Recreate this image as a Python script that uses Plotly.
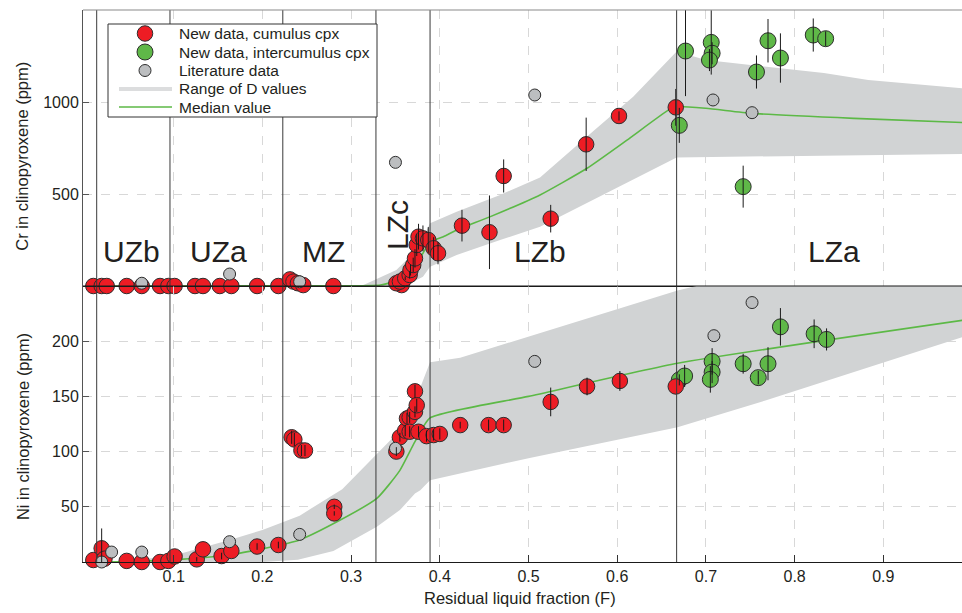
import plotly.graph_objects as go
from plotly.subplots import make_subplots

# ---------------- data ----------------
# zone boundaries (residual liquid fraction F)
zone_bounds = [0.0132, 0.0958, 0.223, 0.328, 0.389, 0.667]
zone_names = ["UZb", "UZa", "MZ", "LZc", "LZb", "LZa"]
zone_label_F = [0.052, 0.150, 0.269, 0.353, 0.513, 0.844]

# --- Cr panel ---
cum_F_cr = [0.0094, 0.0188, 0.0245, 0.047, 0.064, 0.0846, 0.094, 0.101, 0.124, 0.133, 0.152, 0.165,
            0.194, 0.218, 0.231, 0.235, 0.240, 0.246, 0.280,
            0.357, 0.351, 0.355, 0.361, 0.366, 0.367, 0.370, 0.372, 0.374, 0.376, 0.381, 0.387, 0.393, 0.398,
            0.425, 0.456, 0.472, 0.525, 0.565, 0.602, 0.666]
cum_Cr = [0, 0, 0, 0, 0, 0, 0, 0, 0, 0, 0, 0,
          0, 0, 36, 24, 15, 5, 0,
          5, 15, 24, 42, 60, 87, 114, 150, 223, 268, 259, 250, 205, 178,
          328, 292, 598, 366, 770, 924, 971]
cum_Cr_err = [0, 0, 0, 0, 0, 0, 0, 0, 0, 0, 0, 0,
              0, 0, 0, 0, 0, 0, 0,
              0, 0, 0, 10, 20, 30, 40, 50, 60, 70, 70, 70, 60, 60,
              86, 200, 90, 75, 145, 25, 100]

int_F_cr = [0.670, 0.677, 0.706, 0.707, 0.704, 0.742, 0.757, 0.770, 0.784, 0.821, 0.835]
int_Cr = [873, 1277, 1324, 1265, 1228, 540, 1163, 1333, 1239, 1364, 1344]
int_Cr_err = [95, 245, 175, 60, 60, 114, 90, 118, 134, 90, 40]

lit_F_cr = [0.064, 0.163, 0.242, 0.350, 0.507, 0.708, 0.752]
lit_Cr = [15, 65, 23, 672, 1038, 1011, 942]

cr_med_F = [0.0, 0.30, 0.333, 0.363, 0.381, 0.389, 0.404, 0.419, 0.457, 0.513, 0.566, 0.611, 0.658,
            0.667, 0.70, 0.752, 0.867, 0.99]
cr_med = [0, 1, 5, 50, 178, 241, 268, 304, 377, 495, 640, 793, 957, 975, 966, 938, 911, 888]
cr_up_F = [0.29, 0.314, 0.351, 0.374, 0.389, 0.419, 0.468, 0.513, 0.566, 0.618, 0.667, 0.70, 0.833, 0.883, 0.99]
cr_up = [0, 5, 87, 196, 341, 404, 495, 590, 812, 1029, 1274, 1228, 1157, 1120, 1074]
cr_lo_F = [0.29, 0.363, 0.381, 0.389, 0.419, 0.468, 0.513, 0.58, 0.667, 0.99]
cr_lo = [0, 5, 50, 105, 168, 250, 322, 485, 699, 717]

# --- Ni panel ---
cum_F_ni = [0.0094, 0.0188, 0.022, 0.047, 0.064, 0.0846, 0.094, 0.101, 0.126, 0.133, 0.154, 0.165,
            0.194, 0.218, 0.233, 0.236, 0.244, 0.248, 0.281, 0.281,
            0.351, 0.355, 0.361, 0.363, 0.366, 0.366, 0.372, 0.372, 0.374, 0.376, 0.385, 0.393, 0.400,
            0.423, 0.455, 0.472, 0.525, 0.566, 0.603, 0.666]
cum_Ni = [1.8, 12.4, 3, 1, 0, 0, 1, 5, 2.4, 11.5, 5.4, 10,
          14, 15.4, 113, 111, 101, 101, 50, 44,
          100, 113, 119, 130, 131, 118, 136, 154.6, 142, 118, 114, 115, 116,
          124, 124, 124, 145, 159, 164, 159]
cum_Ni_err = [0, 18, 0, 0, 0, 0, 0, 0, 2, 0, 3, 0,
              3, 3, 6, 6, 5, 5, 2, 2,
              4, 4, 5, 5, 5, 5, 5, 6, 6, 5, 5, 5, 5,
              3, 5, 5, 13, 8, 9, 0]

int_F_ni = [0.670, 0.676, 0.707, 0.707, 0.705, 0.742, 0.759, 0.770, 0.784, 0.822, 0.836]
int_Ni = [165, 168.5, 181.7, 172, 165.4, 179.6, 167, 179.6, 213, 206.7, 201.6]
int_Ni_err = [5, 10, 12, 10, 12, 9, 6, 15, 17, 13, 10]

lit_F_ni = [0.0188, 0.030, 0.064, 0.163, 0.242, 0.350, 0.507, 0.709, 0.752]
lit_Ni = [0, 9, 9, 18.4, 25, 103, 181.7, 205, 235]

ni_med_F = [0.0, 0.05, 0.107, 0.163, 0.22, 0.242, 0.276, 0.329, 0.355, 0.372, 0.389, 0.50, 0.668, 0.99]
ni_med = [0, 0.5, 2.4, 6.3, 15.4, 20, 33, 57.6, 83, 109, 130.5, 150, 180, 219]
ni_up_F = [0.03, 0.07, 0.10, 0.163, 0.20, 0.242, 0.29, 0.329, 0.355, 0.378, 0.389, 0.423, 0.50, 0.668, 0.70, 0.80, 0.99]
ni_up = [0, 3, 6, 20, 29, 42, 66, 98, 119, 158, 181, 185, 204, 246, 252, 262, 280]
ni_lo_F = [0.03, 0.20, 0.24, 0.28, 0.329, 0.355, 0.372, 0.378, 0.389, 0.50, 0.668, 0.768, 0.99]
ni_lo = [0, 0, 2, 10, 32, 47, 62, 65, 74, 94, 122, 146.5, 204]

legend_labels = ["New data, cumulus cpx", "New data, intercumulus cpx", "Literature data",
                 "Range of D values", "Median value"]

# ---------------- styling ----------------
RED = "#ED1C24"
GREEN = "#5FB848"
GRAY = "#BCBEC0"
BAND = "#D1D3D4"
MED = "#5CB946"
EDGE = "#2E2E2E"
TXT = "#231F20"
FONT = "Liberation Sans, Arial, Helvetica, sans-serif"

fig = make_subplots(rows=2, cols=1, shared_xaxes=True, vertical_spacing=0)


def add_band(Fu, Vu, Fl, Vl, row):
    fig.add_trace(go.Scatter(x=Fu + Fl[::-1], y=Vu + Vl[::-1], mode="lines", fill="toself",
                             fillcolor=BAND, line=dict(width=0, color=BAND),
                             hoverinfo="skip", showlegend=False), row=row, col=1)


def add_median(F, V, row):
    fig.add_trace(go.Scatter(x=F, y=V, mode="lines", line=dict(color=MED, width=1.6, shape="spline",
                                                               smoothing=0.5),
                             showlegend=False, hoverinfo="skip"), row=row, col=1)


def add_pts(F, V, color, size, row, name):
    fig.add_trace(go.Scatter(x=F, y=V, mode="markers", name=name, showlegend=False,
                             marker=dict(size=size, color=color, line=dict(color=EDGE, width=1)),
                             cliponaxis=False), row=row, col=1)


def add_err(F, V, E, row):
    xs, ys = [], []
    for f, v, e in zip(F, V, E):
        if e > 0:
            xs += [f, f, None]
            ys += [v - e, v + e, None]
    fig.add_trace(go.Scatter(x=xs, y=ys, mode="lines", line=dict(color="#1A1A1A", width=1),
                             showlegend=False, hoverinfo="skip"), row=row, col=1)


# bands and medians
add_band(cr_up_F, cr_up, cr_lo_F, cr_lo, 1)
add_band(ni_up_F, ni_up, ni_lo_F, ni_lo, 2)
add_median(cr_med_F, cr_med, 1)
add_median(ni_med_F, ni_med, 2)

# points
add_pts(int_F_cr, int_Cr, GREEN, 16, 1, legend_labels[1])
add_pts(int_F_ni, int_Ni, GREEN, 16, 2, legend_labels[1])
add_pts(cum_F_cr, cum_Cr, RED, 15.5, 1, legend_labels[0])
add_pts(cum_F_ni, cum_Ni, RED, 15.5, 2, legend_labels[0])
add_pts(lit_F_cr, lit_Cr, GRAY, 12, 1, legend_labels[2])
add_pts(lit_F_ni, lit_Ni, GRAY, 12, 2, legend_labels[2])

# error bars
add_err(int_F_cr, int_Cr, int_Cr_err, 1)
add_err(cum_F_cr, cum_Cr, cum_Cr_err, 1)
add_err(int_F_ni, int_Ni, int_Ni_err, 2)
add_err(cum_F_ni, cum_Ni, cum_Ni_err, 2)

# zone boundaries + frame
shapes = []
for b in zone_bounds:
    shapes.append(dict(type="line", xref="x", yref="paper", x0=b, x1=b, y0=0, y1=1,
                       line=dict(color="#3A3A3A", width=1), layer="above"))
shapes.append(dict(type="line", xref="paper", yref="paper", x0=0, x1=1, y0=1, y1=1,
                   line=dict(color="#8A8A8A", width=1.2)))
shapes.append(dict(type="line", xref="paper", yref="paper", x0=0, x1=1, y0=0.5, y1=0.5,
                   line=dict(color="#1A1A1A", width=1.2)))

annotations = []
for name, f in zip(zone_names, zone_label_F):
    if name == "LZc":
        annotations.append(dict(x=f, y=332, xref="x", yref="y", text=name, showarrow=False,
                                textangle=-90, xanchor="center", yanchor="middle",
                                font=dict(size=30, color=TXT, family=FONT)))
    else:
        annotations.append(dict(x=f, y=185, xref="x", yref="y", text=name, showarrow=False,
                                xanchor="center", yanchor="middle",
                                font=dict(size=30, color=TXT, family=FONT)))

annotations += [
    dict(x=-0.069, y=0.735, xref="paper", yref="paper", text="Cr in clinopyroxene (ppm)",
         textangle=-90, showarrow=False, xanchor="center", yanchor="middle",
         font=dict(size=16.5, color=TXT, family=FONT)),
    dict(x=-0.069, y=0.245, xref="paper", yref="paper", text="Ni in clinopyroxene (ppm)",
         textangle=-90, showarrow=False, xanchor="center", yanchor="middle",
         font=dict(size=16.5, color=TXT, family=FONT)),
    dict(x=0.497, y=-0.066, xref="paper", yref="paper", text="Residual liquid fraction (F)",
         showarrow=False, xanchor="center", yanchor="middle",
         font=dict(size=16.5, color=TXT, family=FONT)),
]

# ---- hand-drawn legend box (paper coordinates derived from pixel layout) ----
PLOT_L, PLOT_W, PLOT_B, PLOT_H = 83, 879, 562, 552


def px_x(p):
    return (p - PLOT_L) / PLOT_W


def px_y(p):
    return (PLOT_B - p) / PLOT_H


shapes.append(dict(type="rect", xref="paper", yref="paper", x0=px_x(108), x1=px_x(377),
                   y0=px_y(117), y1=px_y(24), fillcolor="white", line=dict(color="#333", width=1),
                   layer="above"))
row_y = [33.5, 52, 70.5, 89, 107]
sym_colors = [RED, GREEN, GRAY]
sym_sizes = [15.5, 16, 12]
for i in range(3):
    shapes.append(dict(type="circle", xref="paper", yref="paper", xsizemode="pixel",
                       ysizemode="pixel", xanchor=px_x(145), yanchor=px_y(row_y[i]),
                       x0=-sym_sizes[i] / 2, x1=sym_sizes[i] / 2,
                       y0=-sym_sizes[i] / 2, y1=sym_sizes[i] / 2,
                       fillcolor=sym_colors[i], line=dict(color=EDGE, width=1), layer="above"))
shapes.append(dict(type="line", xref="paper", yref="paper", x0=px_x(119), x1=px_x(172),
                   y0=px_y(row_y[3]), y1=px_y(row_y[3]), line=dict(color="#DCDDDE", width=4),
                   layer="above"))
shapes.append(dict(type="line", xref="paper", yref="paper", x0=px_x(119), x1=px_x(172),
                   y0=px_y(row_y[4]), y1=px_y(row_y[4]), line=dict(color=MED, width=1.6),
                   layer="above"))
for lab, yy in zip(legend_labels, row_y):
    annotations.append(dict(x=px_x(177), y=px_y(yy), xref="paper", yref="paper", text=lab,
                            showarrow=False, xanchor="left", yanchor="middle",
                            font=dict(size=15.5, color=TXT, family=FONT)))

xr = [-0.00225, 0.9887]
xticks = [0.1, 0.2, 0.3, 0.4, 0.5, 0.6, 0.7, 0.8, 0.9]
common_x = dict(range=xr, tickvals=xticks, showgrid=True, gridcolor="#D8D8D8", griddash="dash",
                gridwidth=1, zeroline=False, showline=True, linecolor="#1A1A1A", linewidth=1.2)
fig.update_xaxes(**common_x)
fig.update_xaxes(showticklabels=False, ticks="", row=1, col=1)
fig.update_xaxes(ticks="inside", ticklen=7, tickcolor="#333", tickformat=".1f",
                 tickfont=dict(size=16, color=TXT, family=FONT), row=2, col=1)

common_y = dict(showgrid=True, gridcolor="#D8D8D8", griddash="dash", gridwidth=1, zeroline=False,
                showline=True, linecolor="#555", linewidth=1, ticks="inside", ticklen=6,
                tickcolor="#555", tickfont=dict(size=16, color=TXT, family=FONT))
fig.update_yaxes(range=[0, 1500], tickvals=[500, 1000], row=1, col=1, **common_y)
fig.update_yaxes(range=[0, 250], tickvals=[50, 100, 150, 200], row=2, col=1, **common_y)

fig.update_layout(
    width=962, height=613,
    margin=dict(l=83, r=0, t=10, b=51),
    plot_bgcolor="white", paper_bgcolor="white",
    font=dict(family=FONT, color=TXT),
    shapes=shapes, annotations=annotations,
    showlegend=False,
)

fig.write_html("out.html")
